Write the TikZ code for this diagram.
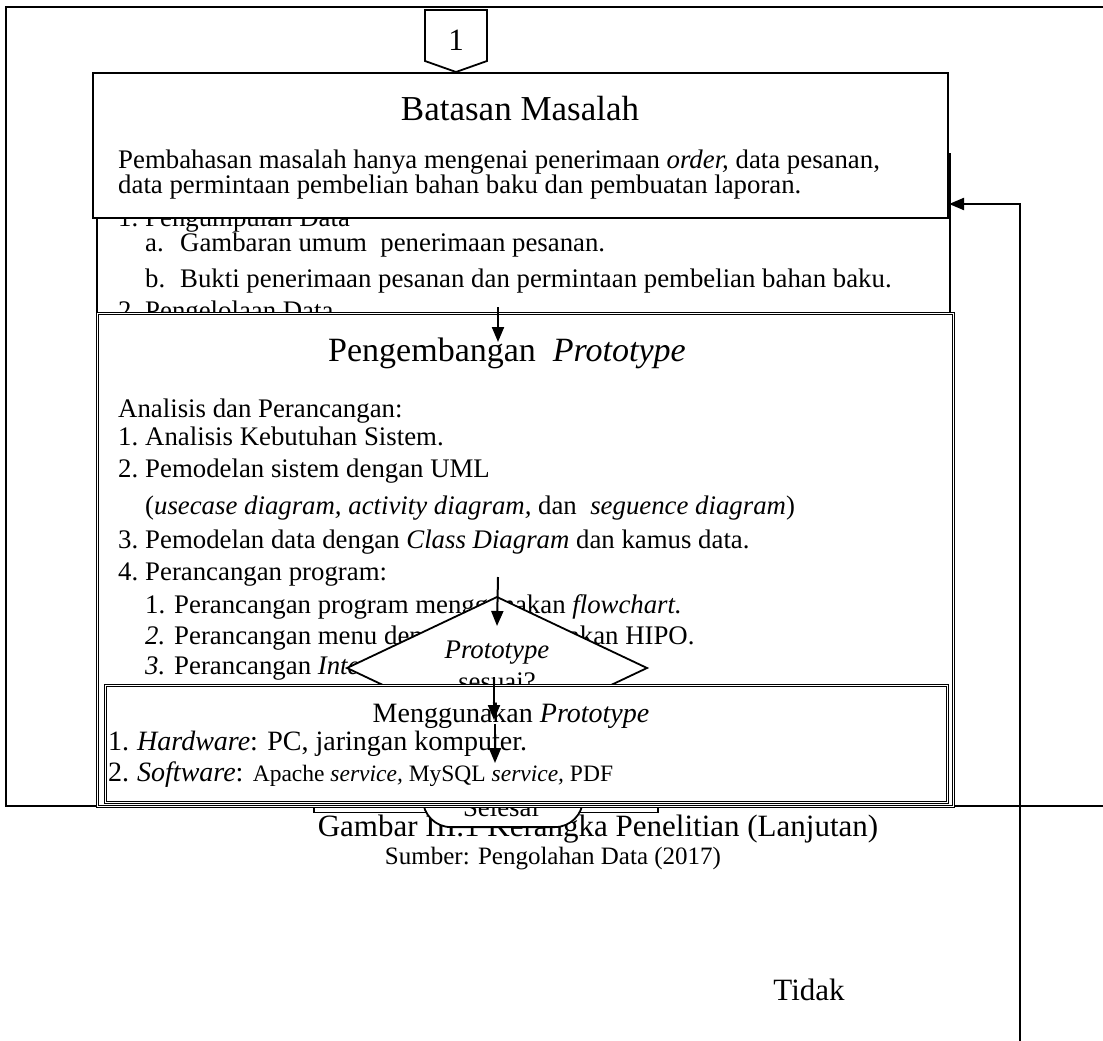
\documentclass[tikz,border=0pt]{standalone}
\usepackage{fontspec}
\setmainfont{Liberation Serif}
\usetikzlibrary{arrows.meta}
\begin{document}
\begin{tikzpicture}[x=1pt,y=-1pt,
  txt/.style={inner sep=0pt, font=\fontsize{26.8}{30}\selectfont},
  ttl/.style={inner sep=0pt, font=\fontsize{35}{40}\selectfont},
  captxt/.style={inner sep=0pt, font=\fontsize{31}{36}\selectfont},
  plainbox/.style={draw, fill=white, line width=1.8pt, inner sep=0pt},
  dblbox/.style={draw, fill=white, double, double distance=1.4pt, line width=0.9pt, inner sep=0pt},
  flow/.style={line width=2pt, -{Triangle[length=15pt,width=12pt]}}
]
\useasboundingbox[fill=white] (0,0) rectangle (1103,1041);

% outer frame, open on the right
\draw[line width=2.2pt] (1103,7) -- (6,7) -- (6,806) -- (1103,806);

% caption and source
\node[captxt, anchor=base] (figcap) at (598,836) {Gambar III.1 Kerangka Penelitian (Lanjutan)};
\node[txt, font=\fontsize{25}{30}\selectfont, anchor=base] (figsrc) at (553,864) {Sumber: Pengolahan Data (2017)};

% end bar and terminator
\node[plainbox, line width=1.5pt, minimum width=344pt, minimum height=60pt, anchor=south west] (endbar) at (313,813) {};
\node[plainbox, rounded corners=28pt, minimum width=160pt, minimum height=80pt, anchor=south west] (stop) at (422,828) {};
\node[txt, anchor=base] (stoptxt) at (501,816) {Selesai};

% data collection box
\node[plainbox, line width=1.6pt, minimum width=853pt, minimum height=180pt, anchor=north west] (collect) at (96,153) {};
\node[txt, anchor=base west] (c1n) at (118,226) {1.};
\node[txt, anchor=base west] (c1) at (145,226) {Pengumpulan Data};
\node[txt, anchor=base west] (cAn) at (145,251) {a.};
\node[txt, anchor=base west] (cA) at (180,251) {Gambaran umum\ \ penerimaan pesanan.};
\node[txt, anchor=base west] (cBn) at (145,287) {b.};
\node[txt, anchor=base west] (cB) at (180,287) {Bukti penerimaan pesanan dan permintaan pembelian bahan baku.};
\node[txt, anchor=base west] (c2n) at (118,319) {2.};
\node[txt, anchor=base west] (c2) at (145,319) {Pengelolaan Data};

% scope box
\node[plainbox, line width=2pt, minimum width=855pt, minimum height=145pt, anchor=north west] (scopebox) at (92,72) {};
\node[ttl, anchor=base] (scopettl) at (520,120) {Batasan Masalah};
\node[txt, anchor=base west] (scope1) at (118,168) {Pembahasan masalah hanya mengenai penerimaan \textit{order,} data pesanan,};
\node[txt, anchor=base west] (scope2) at (118,193) {data permintaan pembelian bahan baku dan pembuatan laporan.};

% off-page connector
\draw[line width=1.8pt, fill=white] (425,10) -- (487,10) -- (487,61) -- (456,72) -- (425,61) -- cycle;
\node[captxt, anchor=base] (page) at (456,51) {1};

% prototype development box
\node[dblbox, minimum width=856pt, minimum height=493pt, anchor=north west] (dev) at (97,313) {};
\node[ttl, font=\fontsize{34}{40}\selectfont, anchor=base] (devttl) at (507,361) {Pengembangan\ \ \textit{Prototype}};
\node[txt, anchor=base west] (d0) at (118,417) {Analisis dan Perancangan:};
\node[txt, anchor=base west] (d1n) at (118,445) {1.};
\node[txt, anchor=base west] (d1) at (145,445) {Analisis Kebutuhan Sistem.};
\node[txt, anchor=base west] (d2n) at (118,477) {2.};
\node[txt, anchor=base west] (d2) at (145,477) {Pemodelan sistem dengan UML};
\node[txt, anchor=base west] (d2b) at (145,514) {(\textit{usecase diagram, activity diagram,} dan\ \ \textit{seguence diagram})};
\node[txt, anchor=base west] (d3n) at (118,548) {3.};
\node[txt, anchor=base west] (d3) at (145,548) {Pemodelan data dengan \textit{Class Diagram} dan kamus data.};
\node[txt, anchor=base west] (d4n) at (118,580) {4.};
\node[txt, anchor=base west] (d4) at (145,580) {Perancangan program:};
\node[txt, anchor=base west] (d41) at (145,613) {1. Perancangan program menggunakan \textit{flowchart.}};
\node[txt, anchor=base west] (d42) at (145,644) {\textit{2.} Perancangan menu dengan menggunakan HIPO.};
\node[txt, anchor=base west] (d43) at (145,674) {\textit{3.} Perancangan \textit{Interface}};
\node[txt, anchor=base west] (d5n) at (118,703) {5.};
\node[txt, anchor=base west] (d5) at (145,703) {Pembuatan \textit{Prototype}};

% decision
\draw[line width=1.8pt, fill=white] (347,668) -- (497,597) -- (647,668) -- (497,739) -- cycle;
\node[txt, anchor=base] (decide1) at (497,658) {\textit{Prototype}};
\node[txt, anchor=base] (decide2) at (497,690) {sesuai?};

% usage box
\node[dblbox, minimum width=842pt, minimum height=117pt, anchor=north west] (use) at (105,685) {};
\node[txt, font=\fontsize{28}{32}\selectfont, anchor=base] (usettl) at (511,722) {Menggunakan \textit{Prototype}};
\node[txt, font=\fontsize{28}{32}\selectfont, anchor=base west] (u1n) at (108,750) {1.};
\node[txt, font=\fontsize{28}{32}\selectfont, anchor=base west] (u1) at (137,750) {\textit{Hardware}: PC, jaringan komputer.};
\node[txt, font=\fontsize{28}{32}\selectfont, anchor=base west] (u2n) at (108,781) {2.};
\node[txt, anchor=base west] (u2) at (137,781) {\fontsize{28}{32}\selectfont\textit{Software}: \fontsize{23.5}{28}\selectfont Apache \textit{service,} MySQL \textit{service,} PDF};

% flow arrows
\coordinate (a1s) at (498,307);
\coordinate (a1e) at (498,342);
\coordinate (a2s) at (498,577);
\coordinate (a2e) at (497,626);
\coordinate (a3s) at (494,677);
\coordinate (a3e) at (494,720);
\coordinate (a4s) at (495,724);
\coordinate (a4e) at (495,763);
\draw[flow] (a1s) -- (a1e);
\draw[flow] (a2s) -- (a2e);
\draw[flow] (a3s) -- (a3e);
\draw[flow] (a4s) -- (a4e);

% feedback loop back to the scope box
\coordinate (fbBot) at (1020,1041);
\coordinate (fbTurn) at (1020,204);
\draw[flow] (fbBot) -- (fbTurn) -- (scopebox.east |- fbTurn);
\node[captxt, anchor=base] (no) at (809,1000) {Tidak};
\end{tikzpicture}
\end{document}
